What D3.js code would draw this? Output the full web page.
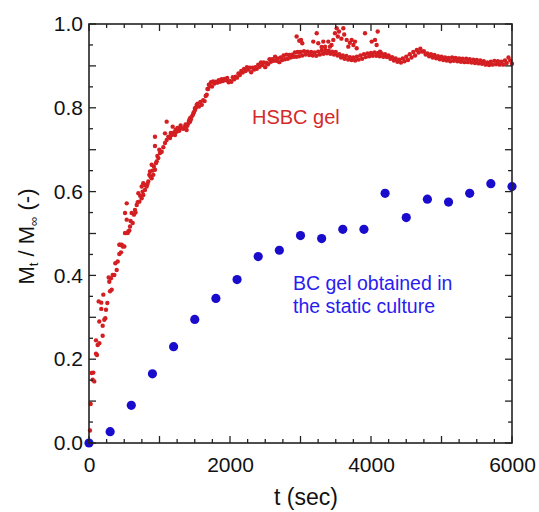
<!DOCTYPE html>
<html>
<head>
<meta charset="utf-8">
<script src="https://cdn.jsdelivr.net/npm/d3@7"></script>
<style>
  html, body { margin: 0; padding: 0; background: #fff; }
  svg { display: block; }
  text { font-family: "Liberation Sans", Arial, sans-serif; }
</style>
</head>
<body>
<svg id="chart" width="539" height="512"></svg>
<script>
// ---------- data ----------
const xTickValues = [0, 2000, 4000, 6000];
const yTickValues = [0.0, 0.2, 0.4, 0.6, 0.8, 1.0];

// BC gel obtained in the static culture
const bcTime  = [0, 300, 600, 900, 1200, 1500, 1800, 2100, 2400, 2700, 3000, 3300, 3600, 3900, 4200, 4500, 4800, 5100, 5400, 5700, 6000];
const bcValue = [0.000, 0.027, 0.090, 0.165, 0.230, 0.295, 0.345, 0.390, 0.445, 0.460, 0.495, 0.488, 0.510, 0.510, 0.596, 0.538, 0.582, 0.575, 0.596, 0.619, 0.612];

// HSBC gel (t, Mt/Minf), early rise
const hsbcRise = [
[14,0.030],[24,0.093],[38,0.167],[52,0.151],[61,0.168],[75,0.147],[99,0.213],[99,0.245],[113,0.210],[123,0.234],
[137,0.338],[146,0.238],[146,0.290],[174,0.335],[174,0.320],[194,0.256],[194,0.280],[203,0.354],[217,0.294],[231,0.298],
[241,0.318],[260,0.334],[279,0.395],[288,0.385],[298,0.362],[312,0.393],[322,0.366],[336,0.401],[359,0.401],[373,0.429],
[393,0.413],[407,0.433],[430,0.451],[430,0.473],[440,0.473],[454,0.455],[464,0.473],[478,0.469],[501,0.469],[511,0.501],
[511,0.549],[515,0.501],[535,0.533],[535,0.572],[549,0.501],[557,0.505],[572,0.507],[582,0.517],[590,0.530],[605,0.549],
[620,0.525],[638,0.545],[652,0.556],[660,0.550],[677,0.568],[690,0.575],[700,0.596],[714,0.576],[725,0.590],[747,0.584],
[747,0.612],[760,0.600],[770,0.592],[770,0.620],[794,0.604],[800,0.615],[818,0.612],[830,0.618],[841,0.624],[855,0.640],
[865,0.648],[870,0.636],[889,0.632],[889,0.664],[900,0.650],[912,0.640],[920,0.660],[936,0.652],[936,0.709],[936,0.731],
[950,0.668],[960,0.672],[970,0.685],[983,0.680],[997,0.700],[1007,0.692],[1031,0.695],[1054,0.706],[1078,0.716],[1078,0.739],
[1102,0.723],[1102,0.767],[1125,0.731],[1150,0.728],[1160,0.740],[1173,0.735],[1187,0.755],[1196,0.739],[1210,0.742],[1220,0.735],
[1230,0.748],[1244,0.743],[1255,0.752],[1267,0.747],[1280,0.745],[1291,0.751],[1300,0.758],[1315,0.751],[1340,0.750],[1362,0.755],
[1370,0.760],[1385,0.747],[1395,0.757],[1409,0.763],[1420,0.770],[1433,0.767],[1433,0.775],[1445,0.772],[1456,0.779],[1470,0.782],
[1480,0.787],[1490,0.790],[1504,0.795],[1504,0.799],[1515,0.800],[1527,0.807]
];

// HSBC gel, dense band approaching plateau
const hsbcBand = [
[1540,0.810],[1560,0.803],[1580,0.814],[1600,0.807],[1620,0.818],[1640,0.816],[1655,0.828],[1670,0.831],[1680,0.845],[1690,0.845],
[1700,0.855],[1715,0.852],[1730,0.861],[1745,0.851],[1760,0.863],[1780,0.858],[1800,0.862],[1820,0.860],[1840,0.866],[1860,0.862],
[1880,0.868],[1900,0.864],[1920,0.869],[1940,0.866],[1960,0.871],[1980,0.861],[2000,0.864],[2020,0.862],[2040,0.873],[2060,0.868],
[2080,0.874],[2100,0.872],[2120,0.882],[2140,0.878],[2160,0.888],[2180,0.884],[2200,0.893],[2220,0.888],[2240,0.897],[2260,0.891],
[2280,0.896],[2300,0.885],[2320,0.896],[2340,0.891],[2360,0.897],[2380,0.893],[2400,0.903],[2420,0.898],[2440,0.908],[2460,0.902],
[2480,0.908],[2500,0.897],[2520,0.907],[2540,0.904],[2560,0.916],[2580,0.910],[2600,0.916],[2620,0.912],[2640,0.922],[2660,0.912],
[2680,0.918],[2700,0.909],[2720,0.920],[2740,0.914],[2760,0.925],[2780,0.916],[2800,0.927],[2820,0.917],[2840,0.926],[2860,0.920],
[2880,0.927],[2900,0.922],[2920,0.932],[2940,0.922],[2960,0.933],[2980,0.923],
[3000,0.933],[3025,0.925],[3050,0.935],[3075,0.927],[3100,0.934],[3125,0.926],[3150,0.933],[3175,0.925],[3200,0.932],[3225,0.924],
[3250,0.934],[3275,0.927],[3300,0.936],[3325,0.929],[3350,0.938],[3375,0.930],[3400,0.936],[3425,0.929],[3450,0.934],[3475,0.927],
[3500,0.933],[3525,0.925],[3550,0.928],[3575,0.920],[3600,0.925],[3625,0.917],[3650,0.924],[3675,0.915],[3700,0.921],[3725,0.914],
[3750,0.920],[3775,0.913],[3800,0.922],[3825,0.915],[3850,0.925],[3875,0.917],[3900,0.928],[3925,0.921],[3950,0.930],[3975,0.923],
[4000,0.931],[4025,0.924],[4050,0.932],[4075,0.924],[4100,0.931],[4125,0.923],[4150,0.930],[4175,0.922],[4200,0.928],[4225,0.921],
[4250,0.925],[4275,0.917],[4300,0.921],[4325,0.913],[4350,0.918],[4375,0.910],[4400,0.915],[4425,0.908],[4450,0.918],[4475,0.911],
[4500,0.922],[4525,0.914],[4550,0.928],[4575,0.920],[4600,0.933],[4625,0.925],[4650,0.938],[4675,0.932],[4700,0.941],[4725,0.934],
[4750,0.935],[4775,0.927],[4800,0.930],[4825,0.923],[4850,0.928],[4875,0.920],[4900,0.926],[4925,0.918],[4950,0.923],[4975,0.916],
[5000,0.922],[5025,0.914],[5050,0.920],[5075,0.913],[5100,0.919],[5125,0.911],[5150,0.920],[5175,0.912],[5200,0.919],[5225,0.911],
[5250,0.918],[5275,0.910],[5300,0.917],[5325,0.909],[5350,0.917],[5375,0.909],[5400,0.916],[5425,0.908],[5450,0.915],[5475,0.907],
[5500,0.914],[5525,0.906],[5550,0.913],[5575,0.905],[5600,0.911],[5625,0.903],[5650,0.908],[5675,0.902],[5700,0.910],[5725,0.903],
[5750,0.912],[5775,0.904],[5800,0.911],[5825,0.903],[5850,0.910],[5875,0.903],[5900,0.913],[5925,0.907],[5950,0.920],[5975,0.913],
[6000,0.905]
];

// HSBC gel, scattered high readings around the plateau
const hsbcScatter = [
[2945,0.970],[2983,0.960],[3007,0.962],[3025,0.954],[3181,0.958],[3230,0.978],[3252,0.954],[3300,0.945],[3323,0.958],[3348,0.946],
[3394,0.958],[3418,0.946],[3440,0.950],[3465,0.962],[3489,0.978],[3513,0.990],[3530,0.970],[3546,0.982],[3580,0.965],[3607,0.990],
[3620,0.975],[3655,0.962],[3678,0.946],[3700,0.955],[3726,0.962],[3750,0.950],[3773,0.958],[3797,0.942],[3915,0.978],[4010,0.958],
[4057,0.962],[4080,0.950],[4095,0.982],[4128,0.934]
];

const hsbcLabel = "HSBC gel";
const bcLabelLines = ["BC gel obtained in", "the static culture"];

// ---------- chart ----------
const svg = d3.select("#chart");
const margin = {left: 89, right: 27, top: 24, bottom: 69};
const W = 539, H = 512;
const x = d3.scaleLinear().domain([0, 6000]).range([margin.left, W - margin.right]);
const y = d3.scaleLinear().domain([0, 1]).range([H - margin.bottom, margin.top]);

const redColor = "#d41f22";
const blueColor = "#1a0ccc";

// points
const hsbcAll = hsbcRise.concat(hsbcBand, hsbcScatter);
svg.append("g").selectAll("circle").data(hsbcAll).join("circle")
  .attr("cx", d => x(d[0])).attr("cy", d => y(d[1])).attr("r", 2.2)
  .attr("fill", redColor);

const bcData = bcTime.map((t, i) => [t, bcValue[i]]);
svg.append("g").selectAll("circle").data(bcData).join("circle")
  .attr("cx", d => x(d[0])).attr("cy", d => y(d[1])).attr("r", 4.6)
  .attr("fill", blueColor);

// axes (ticks inward on all four sides)
const axisColor = "#222";
function styleAxis(g) {
  g.select(".domain").remove();
  g.selectAll("line").attr("stroke", axisColor).attr("stroke-width", 1.3);
  g.selectAll("text").attr("fill", "#111").style("font-size", "21px")
    .style("font-family", '"Liberation Sans", Arial, sans-serif');
}
const xMinor = d3.range(0, 6001, 250);
const yMinor = d3.range(0, 1.0001, 0.05);
const xBottom = y(0), yLeft = x(0), xTop = y(1), yRight = x(6000);

const tickG = svg.append("g");
xMinor.forEach(v => {
  const len = (v % 1000 === 0) ? 7 : 4;
  tickG.append("line").attr("x1", x(v)).attr("x2", x(v)).attr("y1", xBottom).attr("y2", xBottom - len)
    .attr("stroke", axisColor).attr("stroke-width", 1.3);
  tickG.append("line").attr("x1", x(v)).attr("x2", x(v)).attr("y1", xTop).attr("y2", xTop + len)
    .attr("stroke", axisColor).attr("stroke-width", 1.3);
});
yMinor.forEach(v => {
  const major = Math.abs(Math.round(v * 10) - v * 10) < 1e-6;
  const len = major ? 7 : 4;
  tickG.append("line").attr("y1", y(v)).attr("y2", y(v)).attr("x1", yLeft).attr("x2", yLeft + len)
    .attr("stroke", axisColor).attr("stroke-width", 1.3);
  tickG.append("line").attr("y1", y(v)).attr("y2", y(v)).attr("x1", yRight).attr("x2", yRight - len)
    .attr("stroke", axisColor).attr("stroke-width", 1.3);
});

// tick labels via d3 axes
svg.append("g").attr("transform", `translate(0,${xBottom})`)
  .call(d3.axisBottom(x).tickValues(xTickValues).tickSize(0).tickPadding(14).tickFormat(d3.format("d")))
  .call(styleAxis);
svg.append("g").attr("transform", `translate(${yLeft},0)`)
  .call(d3.axisLeft(y).tickValues(yTickValues).tickSize(0).tickPadding(6).tickFormat(d3.format(".1f")))
  .call(styleAxis);

// frame
svg.append("rect")
  .attr("x", x(0)).attr("y", y(1)).attr("width", x(6000) - x(0)).attr("height", y(0) - y(1))
  .attr("fill", "none").attr("stroke", axisColor).attr("stroke-width", 1.6);

// axis titles
svg.append("text").attr("x", 306).attr("y", 505)
  .attr("text-anchor", "middle").style("font-size", "23px").attr("fill", "#111")
  .text("t (sec)");

const yt = svg.append("text")
  .attr("transform", `translate(34,${(y(0) + y(1)) / 2 + 3}) rotate(-90)`)
  .attr("text-anchor", "middle").style("font-size", "22px").attr("fill", "#111");
yt.append("tspan").text("M");
yt.append("tspan").text("t").style("font-size", "13px").attr("dy", 4);
yt.append("tspan").text(" / M").attr("dy", -4);
yt.append("tspan").text("\u221E").style("font-size", "13px").attr("dy", 4);
yt.append("tspan").text(" (-)").attr("dy", -4);

// series labels
svg.append("text").attr("x", 252).attr("y", 124).style("font-size", "20px")
  .attr("fill", "#d42a2a").text(hsbcLabel);
svg.append("g").selectAll("text").data(bcLabelLines).join("text")
  .attr("x", 293).attr("y", (d, i) => 290 + i * 23).style("font-size", "19.5px")
  .attr("fill", "#2a1cf0").text(d => d);
</script>
</body>
</html>
